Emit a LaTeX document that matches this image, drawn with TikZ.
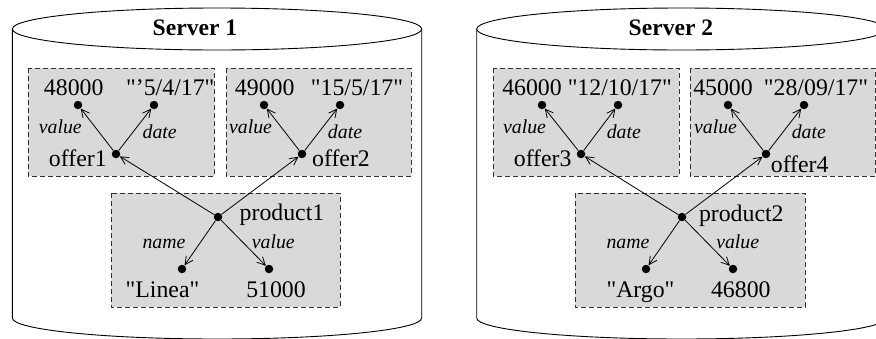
\documentclass[tikz,border=0pt]{standalone}
\usepackage{fontspec}
\setmainfont{Liberation Serif}[Ligatures=TeXOff]
\usetikzlibrary{arrows.meta}
\tikzset{
  dotnode/.style={circle,fill=black,minimum size=8.5pt,inner sep=0pt},
  txt/.style={anchor=base,inner sep=0pt,font=\fontsize{23.8}{25}\selectfont},
  lbl/.style={anchor=base,inner sep=0pt,font=\fontsize{19.8}{21}\selectfont\itshape},
  title/.style={anchor=base,inner sep=0pt,font=\fontsize{23.6}{25}\selectfont\bfseries},
  grpbox/.style={draw=black!80,fill=black!15,dash pattern=on 5pt off 3pt,line width=0.8pt},
  edge/.style={line width=0.8pt,-{Straight Barb[length=8pt,width=8pt,line width=0.8pt]}},
  cyl/.style={line width=0.9pt}
}
\begin{document}
\begin{tikzpicture}[x=1pt,y=-1pt]
\useasboundingbox (0,0) rectangle (876,338);
\fill[white] (0,0) rectangle (876,338);
% cylinders
\draw[cyl] (217,29) ellipse [x radius=204.7pt, y radius=21pt];
\draw[cyl] (12.3,29) -- (12.3,318) arc[start angle=180,end angle=360,x radius=204.7pt,y radius=21pt] -- (421.7,29);
\draw[cyl] (681.4,29) ellipse [x radius=204.7pt, y radius=21pt];
\draw[cyl] (476.7,29) -- (476.7,318) arc[start angle=180,end angle=360,x radius=204.7pt,y radius=21pt] -- (886.1,29);
\node[title] (s1) at (195,35) {Server 1};
\node[title] (s2) at (671,35) {Server 2};
% boxes
\draw[grpbox] (28,68) rectangle (214,176);
\draw[grpbox] (226,68) rectangle (411,176);
\draw[grpbox] (111,193) rectangle (340,307);
\draw[grpbox] (493,68) rectangle (679,176);
\draw[grpbox] (690,68) rectangle (875,176);
\draw[grpbox] (575,193) rectangle (805,307);
% ---- server 1 dots
\node[dotnode] (v1) at (78,105) {};
\node[dotnode] (d1) at (154,105) {};
\node[dotnode] (o1) at (116,154) {};
\node[dotnode] (v2) at (264,105) {};
\node[dotnode] (d2) at (340,105) {};
\node[dotnode] (o2) at (302,154) {};
\node[dotnode] (p1) at (218,217) {};
\node[dotnode] (n1) at (182,269) {};
\node[dotnode] (pv1) at (269,269) {};
% texts
\node[txt] (t48) at (73.7,95) {48000};
\node[txt] (td1) at (170.3,95) {"’5/4/17"};
\node[txt] (to1) at (77.8,166) {offer1};
\node[lbl] (lv1) at (60.3,133) {value};
\node[lbl] (ld1) at (159.7,138) {date};
\node[txt] (t49) at (264.7,95) {49000};
\node[txt] (td2) at (357,95) {"15/5/17"};
\node[txt] (to2) at (341,166) {offer2};
\node[lbl] (lv2) at (250.5,133) {value};
\node[lbl] (ld2) at (345,138) {date};
\node[txt] (tp1) at (282,220) {product1};
\node[lbl] (ln1) at (164,248) {name};
\node[lbl] (lpv1) at (273.3,248) {value};
\node[txt] (tn1) at (162.5,297) {"Linea"};
\node[txt] (t51) at (276,297) {51000};
% edges
\draw[edge] (o1) -- (v1);
\draw[edge] (o1) -- (d1);
\draw[edge] (o2) -- (v2);
\draw[edge] (o2) -- (d2);
\draw[edge] (p1) -- (o1);
\draw[edge] (p1) -- (o2);
\draw[edge] (p1) -- (n1);
\draw[edge] (p1) -- (pv1);
% ---- server 2 dots
\node[dotnode] (v3) at (542,105) {};
\node[dotnode] (d3) at (618,105) {};
\node[dotnode] (o3) at (581,154) {};
\node[dotnode] (v4) at (728,105) {};
\node[dotnode] (d4) at (804,105) {};
\node[dotnode] (o4) at (766,154) {};
\node[dotnode] (p2) at (682,217) {};
\node[dotnode] (n2) at (646,269) {};
\node[dotnode] (pv2) at (733,269) {};
% texts
\node[txt] (t46) at (532,95) {46000};
\node[txt] (td3) at (619.8,95) {"12/10/17"};
\node[txt] (to3) at (542.7,166) {offer3};
\node[lbl] (lv3) at (524.5,133) {value};
\node[lbl] (ld3) at (623.8,138) {date};
\node[txt] (t45) at (723,95) {45000};
\node[txt] (td4) at (816,95) {"28/09/17"};
\node[txt] (to4) at (799.7,172) {offer4};
\node[lbl] (lv4) at (715.5,133) {value};
\node[lbl] (ld4) at (808.8,138) {date};
\node[txt] (tp2) at (741.3,221) {product2};
\node[lbl] (ln2) at (628,248) {name};
\node[lbl] (lpv2) at (737.7,248) {value};
\node[txt] (tn2) at (640.5,297) {"Argo"};
\node[txt] (t468) at (740.8,297) {46800};
% edges
\draw[edge] (o3) -- (v3);
\draw[edge] (o3) -- (d3);
\draw[edge] (o4) -- (v4);
\draw[edge] (o4) -- (d4);
\draw[edge] (p2) -- (o3);
\draw[edge] (p2) -- (o4);
\draw[edge] (p2) -- (n2);
\draw[edge] (p2) -- (pv2);
\end{tikzpicture}
\end{document}
